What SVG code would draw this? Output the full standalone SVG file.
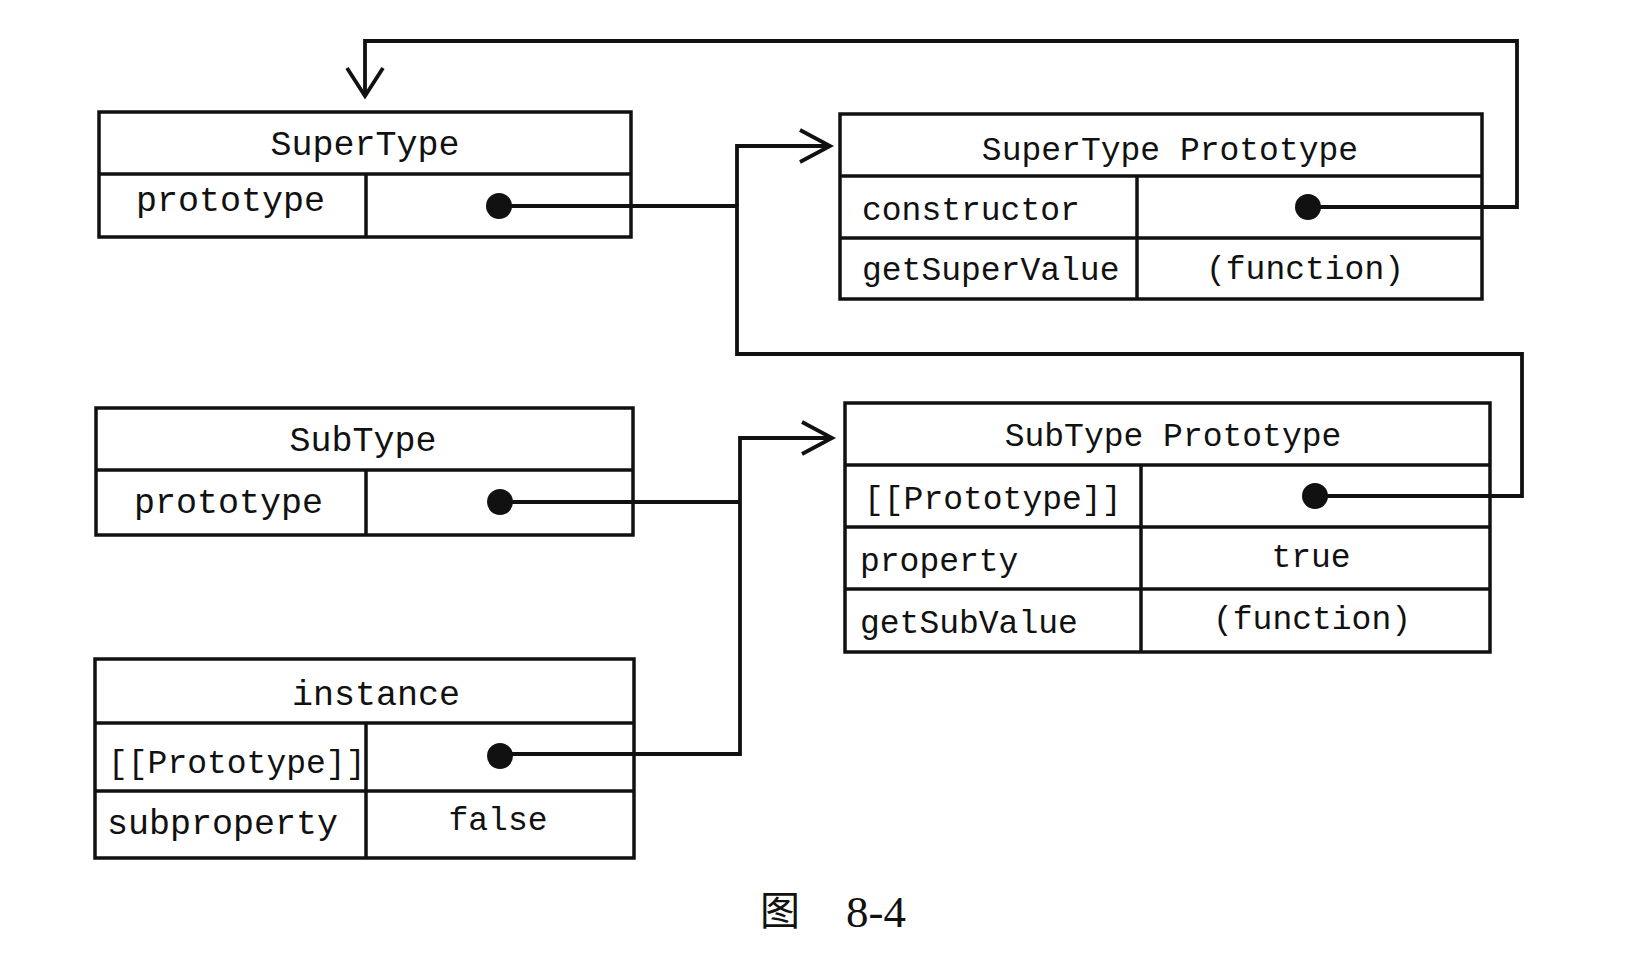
<svg xmlns="http://www.w3.org/2000/svg" width="1627" height="957" viewBox="0 0 1627 957">
<style>
.box{fill:#fff;stroke:#111;stroke-width:3.5}
.ln{stroke:#111;stroke-width:3.5;fill:none}
.t{font-family:"Liberation Mono","Courier New",monospace;font-size:33px;fill:#111}
.b{font-size:35px}
.c{text-anchor:middle}
.dot{fill:#111}
.wire{stroke:#111;stroke-width:3.8;fill:none;stroke-linejoin:miter}
.cap{font-family:"Liberation Serif","Noto Sans CJK SC",serif;fill:#111}
</style>
<rect width="1627" height="957" fill="#fff"/>
<g id="SuperType">
<rect class="box" x="99" y="112" width="532" height="125"/>
<line class="ln" x1="99" y1="174" x2="631" y2="174"/>
<line class="ln" x1="366" y1="174" x2="366" y2="237"/>
<text class="t c b" x="365" y="155">SuperType</text>
<text class="t b" x="136" y="211">prototype</text>
<circle class="dot" cx="499" cy="206" r="13"/>
</g>
<g id="SuperTypePrototype">
<rect class="box" x="840" y="114" width="642" height="185"/>
<line class="ln" x1="840" y1="176" x2="1482" y2="176"/>
<line class="ln" x1="840" y1="238" x2="1482" y2="238"/>
<line class="ln" x1="1137" y1="176" x2="1137" y2="299"/>
<text class="t c" x="1170" y="160">SuperType Prototype</text>
<text class="t" x="862" y="220">constructor</text>
<text class="t" x="862" y="280">getSuperValue</text>
<text class="t c" x="1305" y="279">(function)</text>
<circle class="dot" cx="1308" cy="207" r="13"/>
</g>
<g id="SubType">
<rect class="box" x="96" y="408" width="537" height="127"/>
<line class="ln" x1="96" y1="470" x2="633" y2="470"/>
<line class="ln" x1="366" y1="470" x2="366" y2="535"/>
<text class="t c b" x="363" y="451">SubType</text>
<text class="t b" x="134" y="513">prototype</text>
<circle class="dot" cx="500" cy="502" r="13"/>
</g>
<g id="instance">
<rect class="box" x="95" y="659" width="539" height="199"/>
<line class="ln" x1="95" y1="723" x2="634" y2="723"/>
<line class="ln" x1="95" y1="791" x2="634" y2="791"/>
<line class="ln" x1="366" y1="723" x2="366" y2="858"/>
<text class="t c b" x="376" y="705">instance</text>
<text class="t" x="108" y="773" font-size="32">[[Prototype]]</text>
<text class="t b" x="107" y="834">subproperty</text>
<text class="t c" x="498" y="830">false</text>
<circle class="dot" cx="500" cy="756" r="13"/>
</g>
<g id="SubTypePrototype">
<rect class="box" x="845" y="403" width="645" height="249"/>
<line class="ln" x1="845" y1="465" x2="1490" y2="465"/>
<line class="ln" x1="845" y1="527" x2="1490" y2="527"/>
<line class="ln" x1="845" y1="589" x2="1490" y2="589"/>
<line class="ln" x1="1141" y1="465" x2="1141" y2="652"/>
<text class="t c" x="1173" y="446">SubType Prototype</text>
<text class="t" x="864" y="509">[[Prototype]]</text>
<text class="t" x="860" y="571">property</text>
<text class="t c" x="1311" y="567">true</text>
<text class="t" x="860" y="633" font-size="34">getSubValue</text>
<text class="t c" x="1312" y="629">(function)</text>
<circle class="dot" cx="1315" cy="496" r="13"/>
</g>
<g id="connectors">
<path class="wire" d="M1308 207 H1517 V41 H365 V96"/>
<path class="wire" d="M347 68 L365 96 L383 68"/>
<path class="wire" d="M499 206 H737 V354 H1522 V496 H1315"/>
<path class="wire" d="M737 206 V146 H830"/>
<path class="wire" d="M800 130 L830 146 L800 162"/>
<path class="wire" d="M500 502 H740"/>
<path class="wire" d="M500 754 H740 V438 H832"/>
<path class="wire" d="M802 422 L832 438 L802 454"/>
</g>
<g id="caption">
<text class="cap" x="760" y="925" font-size="40">图</text>
<text class="cap" x="846" y="927" font-size="45">8-4</text>
</g>
</svg>
